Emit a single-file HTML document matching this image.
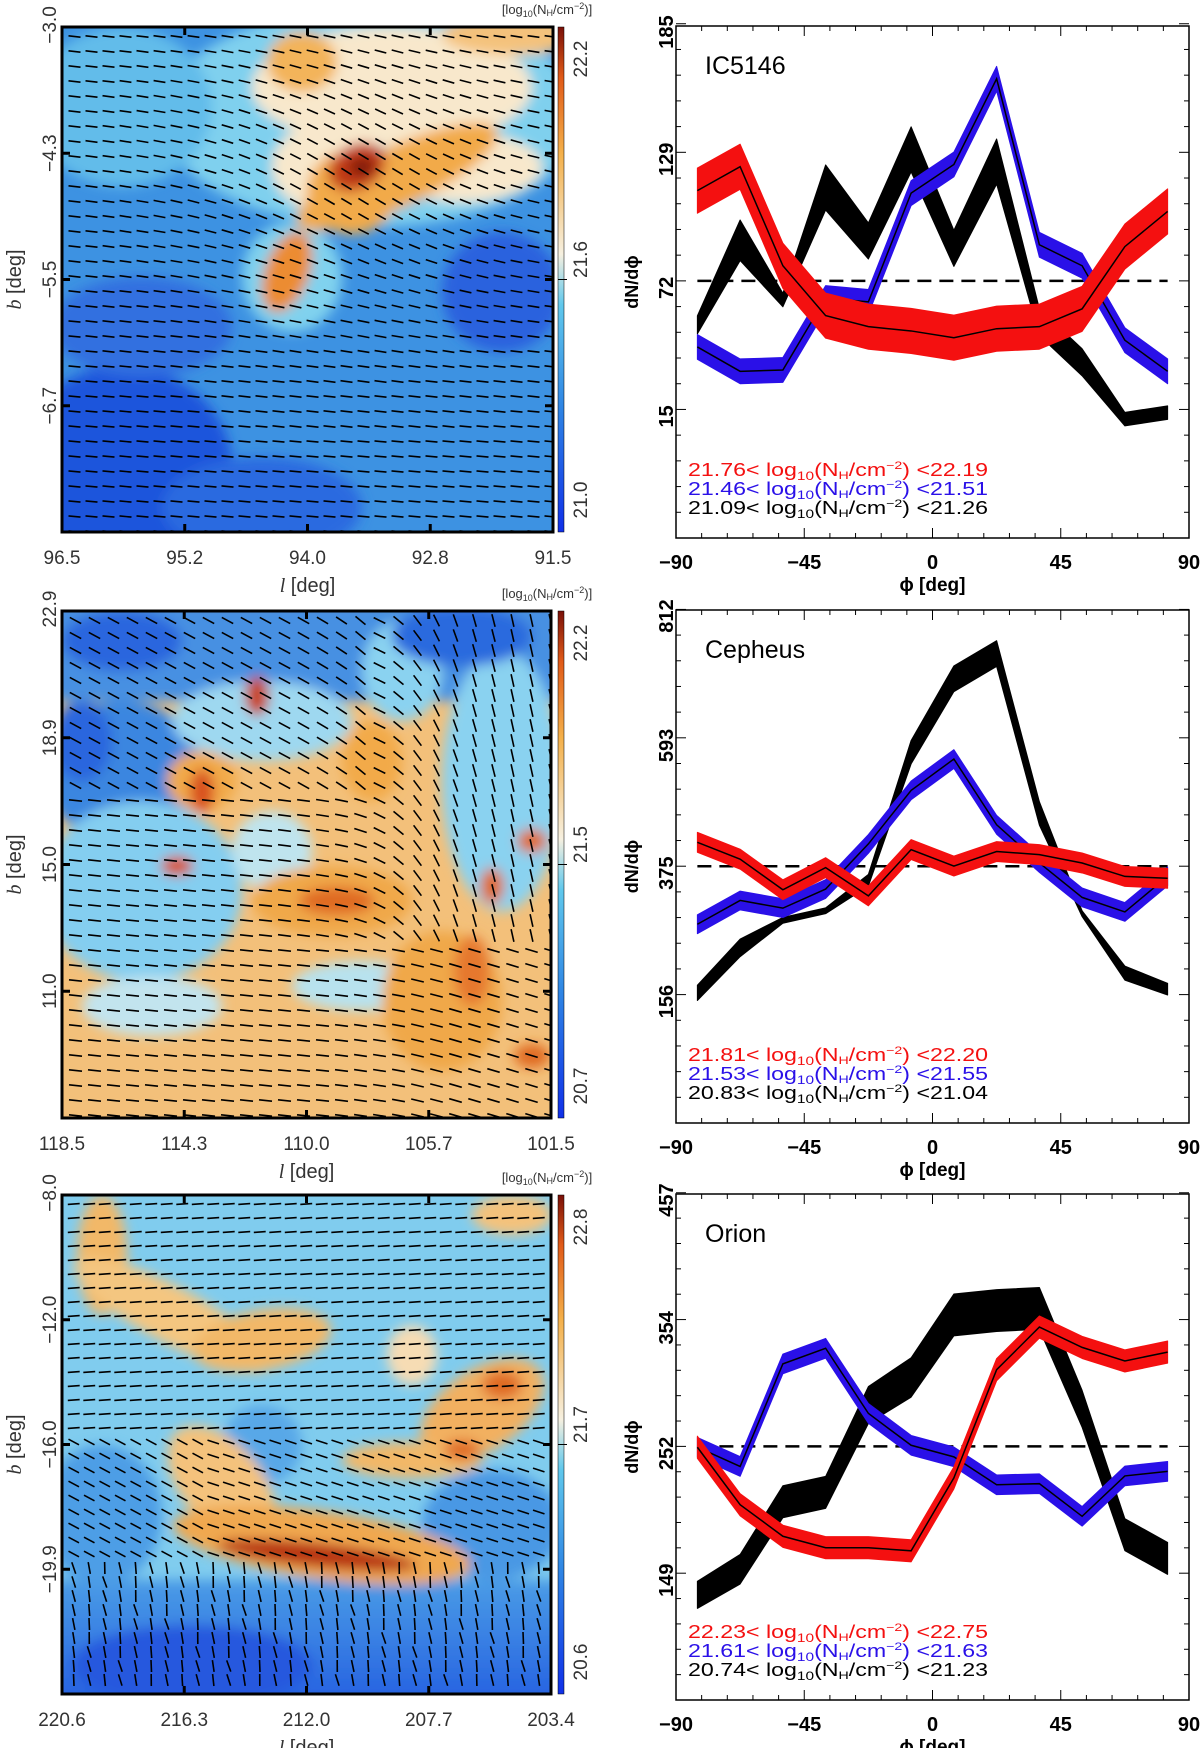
<!DOCTYPE html>
<html><head><meta charset="utf-8"><style>
html,body{margin:0;padding:0;background:#fff}
svg{display:block}
text{font-family:"Liberation Sans",sans-serif}
</style></head><body>
<svg id="root" width="1200" height="1748" viewBox="0 0 1200 1748">
<defs>
<filter id="blur" x="-20%" y="-20%" width="140%" height="140%"><feGaussianBlur stdDeviation="6"/></filter>
<linearGradient id="cbar1" x1="0" y1="1" x2="0" y2="0"><stop offset="0" stop-color="#1030e8"/><stop offset="0.25" stop-color="#2f86e4"/><stop offset="0.45" stop-color="#60c8ec"/><stop offset="0.55" stop-color="#f6f0e0"/><stop offset="0.75" stop-color="#f4b04a"/><stop offset="0.9" stop-color="#e05a18"/><stop offset="1" stop-color="#7a1008"/></linearGradient>
<linearGradient id="bot3" x1="0" y1="0" x2="0" y2="1"><stop offset="0" stop-color="#4a9ce6"/><stop offset="1" stop-color="#2058e0"/></linearGradient>
</defs>
</svg>
<script>
// ---------- chart data ----------
const phiBins = [-82.5,-67.5,-52.5,-37.5,-22.5,-7.5,7.5,22.5,37.5,52.5,67.5,82.5];
const xTicks = [-90,-45,0,45,90];
const ic_red   = [112,122.6,78.7,56.6,51.7,49.8,46.8,50.8,51.7,59.6,87.2,102.8];
const ic_blue  = [42.7,31.9,32.5,64.4,62.7,110.9,123.6,161.6,88,78.7,45.7,31.9];
const ic_black = [52.5,90,63.5,113.4,89.7,130.3,86.4,124.9,53.7,35.9,10.7,13.6];
const ic_blackErr = [4,9,3,10,8,10,8,10,6,6,3,3];
const ic_yTicks = [15,72,129,185];
const ce_red   = [415.7,387,334.8,372.6,324.4,403.3,375.2,400,394.8,380.5,357.6,354.4];
const ce_blue  = [276,316.6,303.5,336,413,504.3,557.8,445.6,380.5,321.8,297,357.6];
const ce_black = [159,235.7,282.7,299,351,569.5,694.7,737.7,465,294,192.7,165.3];
const ce_blackErr = [13,15,5,5,10,20,22,22,20,5,12,10];
const ce_yTicks = [156,375,593,812];
const or_red   = [251.3,204.6,179,169.7,169.7,167.2,226.4,314.3,348.9,332.4,321.4,328.6];
const or_blue  = [251.3,235.7,319,331.7,278.8,252.9,243.5,220.8,221.7,195.2,228,231.7];
const or_black = [131.4,152.2,207,214.6,285.6,308,358.8,362.3,364.1,282.5,180.3,161];
const or_blackErr = [11,12,13,13,15,16,17,17,17,15,13,13];
const or_yTicks = [149,252,354,457];

const NS='http://www.w3.org/2000/svg';
const root=document.getElementById('root');
function el(tag,attrs,parent){const e=document.createElementNS(NS,tag);for(const k in attrs)e.setAttribute(k,attrs[k]);(parent||root).appendChild(e);return e;}

// ---------- line plots ----------
function drawPlot(o){
  const g=el('g',{});
  
  
  const X0=676,X1=1189,Y0=o.top,Y1=o.bottom;
  const ymax=o.yTicks[3], step=o.yTicks[1]-o.yTicks[0], ymin=o.yTicks[0]-step;
  const xs=v=>X0+(v+90)/180*(X1-X0);
  const ys=v=>Y1-(v-ymin)/(ymax-ymin)*(Y1-Y0);
  const band=(vals,errs,color,nm)=>{
    let pts=[];
    vals.forEach((v,i)=>pts.push(xs(phiBins[i])+','+ys(v+errs[i])));
    for(let i=vals.length-1;i>=0;i--)pts.push(xs(phiBins[i])+','+ys(vals[i]-errs[i]));
    const p=el('polygon',{points:pts.join(' '),fill:color,stroke:color,'stroke-width':1,'stroke-linejoin':'round'},g);
    
    
  };
  const line=(vals,nm)=>{
    const p=el('polyline',{points:vals.map((v,i)=>xs(phiBins[i])+','+ys(v)).join(' '),fill:'none',stroke:'#000','stroke-width':1.5},g);
    
    
  };
  const dl=el('line',{x1:xs(phiBins[0]),x2:xs(phiBins[11]),y1:ys(o.yTicks[1]),y2:ys(o.yTicks[1]),stroke:'#000','stroke-width':2.5,'stroke-dasharray':'14,8'},g);
  
  
  band(o.black,o.blackErr,'#000','black-series');
  band(o.blue,o.blue.map(v=>o.blueErr),'#2a10e8','blue-series');
  line(o.blue,'blue-series');
  band(o.red,o.red.map(v=>o.redErr),'#f41010','red-series');
  line(o.red,'red-series');
  const fr=el('rect',{x:X0,y:Y0,width:X1-X0,height:Y1-Y0,fill:'none',stroke:'#000','stroke-width':1.5},g);
  
  
  for(let v=-90;v<=90;v+=9){
    const major=(v%45===0); const L=major?10:5;
    el('line',{x1:xs(v),x2:xs(v),y1:Y1,y2:Y1-L,stroke:'#000','stroke-width':1},g);
    el('line',{x1:xs(v),x2:xs(v),y1:Y0,y2:Y0+L,stroke:'#000','stroke-width':1},g);
  }
  xTicks.forEach(v=>{
    const t=el('text',{x:xs(v),y:Y1+31,'text-anchor':'middle','font-size':20,'font-weight':'bold'},g);
    t.textContent=(v<0?'\u2212'+(-v):v);
    
    
  });
  for(let k=0;k<=20;k++){
    const v=ymin+k*step/5; const major=(k%5===0); const L=major?10:5;
    el('line',{x1:X0,x2:X0+L,y1:ys(v),y2:ys(v),stroke:'#000','stroke-width':1},g);
    el('line',{x1:X1,x2:X1-L,y1:ys(v),y2:ys(v),stroke:'#000','stroke-width':1},g);
  }
  o.yTicks.forEach(v=>{
    const y=ys(v)+ (v===ymax?6:7);
    const t=el('text',{x:0,y:0,transform:`translate(673,${y}) rotate(-90)`,'text-anchor':'middle','font-size':20,'font-weight':'bold'},g);
    t.textContent=v;
    
    
  });
  const yl=el('text',{transform:`translate(638,${(Y0+Y1)/2}) rotate(-90)`,'text-anchor':'middle','font-size':18,'font-weight':'bold'},g);
  yl.textContent='dN/d\u03d5';
  
  
  const xl=el('text',{x:(X0+X1)/2,y:Y1+53,'text-anchor':'middle','font-size':19,'font-weight':'bold'},g);
  xl.textContent='\u03d5 [deg]';
  
  
  const ti=el('text',{x:705,y:Y0+48,'font-size':25},g);
  ti.textContent=o.title;
  
  
  o.legend.forEach((lg,i)=>{
    const t=el('text',{x:688,y:Y1-62+i*19,'font-size':18,fill:lg[2],textLength:300,lengthAdjust:'spacingAndGlyphs'},g);
    
    
    t.innerHTML=lg[0]+'&lt; log<tspan font-size="12" dy="4">10</tspan><tspan dy="-4">(N</tspan><tspan font-size="11" dy="3">H</tspan><tspan dy="-3">/cm</tspan><tspan font-size="11" dy="-7">\u22122</tspan><tspan dy="7">) &lt;'+lg[1]+'</tspan>';
  });
}
drawPlot({name:'ic5146',title:'IC5146',top:26,bottom:538,yTicks:ic_yTicks,red:ic_red,blue:ic_blue,black:ic_black,blackErr:ic_blackErr,redErr:10,blueErr:5.5,
 legend:[['21.76','22.19','#f41010'],['21.46','21.51','#2a10e8'],['21.09','21.26','#000']]});
drawPlot({name:'cepheus',title:'Cepheus',top:610,bottom:1123,yTicks:ce_yTicks,red:ce_red,blue:ce_blue,black:ce_black,blackErr:ce_blackErr,redErr:17,blueErr:16,
 legend:[['21.81','22.20','#f41010'],['21.53','21.55','#2a10e8'],['20.83','21.04','#000']]});
drawPlot({name:'orion',title:'Orion',top:1194,bottom:1700,yTicks:or_yTicks,red:or_red,blue:or_blue,black:or_black,blackErr:or_blackErr,redErr:9,blueErr:8,
 legend:[['22.23','22.75','#f41010'],['21.61','21.63','#2a10e8'],['20.74','21.23','#000']]});

// ---------- maps ----------
function drawMap(o){
  const g=el('g',{});
  
  
  const {x,y,w,h}=o;
  const cid='clip'+o.name;
  const cp=el('clipPath',{id:cid},root); el('rect',{x,y,width:w,height:h},cp);
  const img=el('g',{'clip-path':`url(#${cid})`},g);
  el('rect',{x,y,width:w,height:h,fill:o.base},img);
  const bl=el('g',{filter:'url(#blur)'},img);
  o.blobs.forEach(b=>{
    el(b.r?'rect':'ellipse',b.r?{x:x+b.x,y:y+b.y,width:b.w,height:b.h,fill:b.c}:{cx:x+b.cx,cy:y+b.cy,rx:b.rx,ry:b.ry,fill:b.c,transform:`rotate(${b.a||0} ${x+b.cx} ${y+b.cy})`},bl);
  });
  const vg=el('g',{stroke:'#000','stroke-width':1.6,'stroke-linecap':'butt'},img);
  
  
  for(let yy=o.sy/2+2;yy<h;yy+=o.sy){
    for(let xx=o.sx/2+4;xx<w;xx+=o.sx){
      const a=o.ang(xx,yy)*Math.PI/180, L=o.len/2;
      el('line',{x1:(x+xx-L*Math.cos(a)).toFixed(1),y1:(y+yy-L*Math.sin(a)).toFixed(1),x2:(x+xx+L*Math.cos(a)).toFixed(1),y2:(y+yy+L*Math.sin(a)).toFixed(1)},vg);
    }
  }
  const fr=el('rect',{x,y,width:w,height:h,fill:'none',stroke:'#000','stroke-width':3},g);
  
  
  o.xl.forEach((t,i)=>{
    const xx=x+i*w/4;
    if(i>0&&i<4){el('line',{x1:xx,x2:xx,y1:y,y2:y+8,stroke:'#000','stroke-width':3},g);el('line',{x1:xx,x2:xx,y1:y+h,y2:y+h-8,stroke:'#000','stroke-width':3},g);}
    const tx=el('text',{x:xx,y:y+h+32,'text-anchor':'middle','font-size':19,fill:'#333'},g);
    tx.textContent=t;
    
    
  });
  o.yl.forEach((t,i)=>{
    const yy=y+i*h/4;
    if(i>0){el('line',{x1:x,x2:x+8,y1:yy,y2:yy,stroke:'#000','stroke-width':3},g);el('line',{x1:x+w,x2:x+w-8,y1:yy,y2:yy,stroke:'#000','stroke-width':3},g);}
    const tx=el('text',{transform:`translate(56,${yy+(i===0?-2:0)}) rotate(-90)`,'text-anchor':'middle','font-size':19,fill:'#333'},g);
    tx.textContent=t;
    
    
  });
  const xt=el('text',{x:x+w/2,y:y+h+60,'text-anchor':'middle','font-size':20,fill:'#333'},g);
  xt.innerHTML='<tspan font-family="Liberation Serif" font-style="italic">l</tspan> [deg]';
  
  
  const yt=el('text',{transform:`translate(21,${y+h/2}) rotate(-90)`,'text-anchor':'middle','font-size':20,fill:'#333'},g);
  yt.innerHTML='<tspan font-family="Liberation Serif" font-style="italic">b</tspan> [deg]';
  
  
  const cb=el('rect',{x:558,y,width:6,height:h,fill:'url(#cbar1)',stroke:'#000','stroke-width':0.5},g);
  
  
  el('line',{x1:558,x2:567,y1:y+h/2,y2:y+h/2,stroke:'#000','stroke-width':1},g);
  o.cl.forEach((t,i)=>{
    const yy=[y+h-32,y+h/2-20,y+32][i];
    const tx=el('text',{transform:`translate(587,${yy}) rotate(-90)`,'text-anchor':'middle','font-size':19,fill:'#333'},g);
    tx.textContent=t;
    
    
  });
  const ct=el('text',{x:547,y:y-13,'text-anchor':'middle','font-size':13,fill:'#333'},g);
  ct.innerHTML='[log<tspan font-size="9" dy="3">10</tspan><tspan dy="-3">(N</tspan><tspan font-size="9" dy="2">H</tspan><tspan dy="-2">/cm</tspan><tspan font-size="9" dy="-5">\u22122</tspan><tspan dy="5">)]</tspan>';
  
  
}
const cyan='#7fd0ee',cream='#f8e8cc',orng='#f2aa48',dorng='#e06a22',deep='#1f55dc';
drawMap({name:'ic5146',x:62,y:27,w:491,h:505,base:'#3d92e2',len:12,sx:17,sy:15,
 ang:(x,y)=>6+26*Math.exp(-((x-300)*(x-300)/25000+(y-150)*(y-150)/14000)),
 xl:['96.5','95.2','94.0','92.8','91.5'],yl:['\u22123.0','\u22124.3','\u22125.5','\u22126.7'],cl:['21.0','21.6','22.2'],
 blobs:[
  {cx:60,cy:440,rx:110,ry:100,c:deep},{cx:200,cy:480,rx:100,ry:50,c:'#2b6ae0'},{cx:440,cy:265,rx:60,ry:60,c:'#2a62de'},
  {cx:80,cy:300,rx:90,ry:50,c:'#3070e0'},
  {cx:310,cy:90,rx:210,ry:110,c:cyan},{cx:60,cy:80,rx:90,ry:80,c:'#62bcea'},{cx:230,cy:250,rx:50,ry:55,c:'#80d2ee'},
  {cx:330,cy:60,rx:140,ry:60,c:cream},{cx:265,cy:140,rx:55,ry:45,c:cream},{cx:400,cy:140,rx:80,ry:35,c:cream},
  {cx:240,cy:35,rx:35,ry:30,c:'#f3b45a'},{cx:450,cy:8,rx:70,ry:20,c:'#f4c27c'},
  {cx:335,cy:150,rx:110,ry:30,a:-25,c:orng},{cx:290,cy:165,rx:45,ry:42,c:orng},{cx:225,cy:245,rx:22,ry:42,a:20,c:'#ec8c30'},
  {cx:295,cy:140,rx:30,ry:22,a:-30,c:'#c23a12'},{cx:300,cy:140,rx:13,ry:9,c:'#7a1408'}
 ]});
drawMap({name:'cepheus',x:62,y:611,w:489,h:507,base:'#f3c07a',len:13,sx:19,sy:15,
 ang:(x,y)=>{const s=1/(1+Math.exp(-(x-340)/25));const t=y<330?1:0.15;return 6+(y<180&&x<300?22:0)+72*s*t;},
 xl:['118.5','114.3','110.0','105.7','101.5'],yl:['22.9','18.9','15.0','11.0'],cl:['20.7','21.5','22.2'],
 blobs:[
  {r:1,x:-10,y:-10,w:510,h:100,c:'#4690e2'},{cx:60,cy:160,rx:80,ry:70,c:'#3a86e0'},
  {cx:80,cy:280,rx:100,ry:90,c:'#84cef0'},{cx:200,cy:110,rx:90,ry:40,c:'#9ed8f0'},
  {cx:210,cy:240,rx:40,ry:40,c:'#bfe4ee'},{cx:90,cy:395,rx:70,ry:30,c:'#c2e4ee'},{cx:300,cy:375,rx:70,ry:25,c:'#b8e2ee'},
  {cx:440,cy:170,rx:60,ry:130,c:'#8ad2f0'},{cx:340,cy:60,rx:40,ry:50,c:'#8ad2f0'},
  {cx:60,cy:30,rx:60,ry:30,c:'#2a66de'},{cx:400,cy:25,rx:70,ry:30,c:'#2a6ade'},{cx:20,cy:130,rx:30,ry:40,c:'#2a66de'},
  {cx:140,cy:170,rx:35,ry:30,c:orng},{cx:310,cy:150,rx:30,ry:40,c:orng},{cx:270,cy:290,rx:80,ry:35,c:'#f0a848'},{cx:380,cy:390,rx:60,ry:70,c:'#f0a848'},
  {cx:140,cy:180,rx:12,ry:22,c:'#d8501c'},{cx:115,cy:255,rx:16,ry:10,c:'#d8501c'},{cx:275,cy:290,rx:38,ry:14,c:dorng},
  {cx:195,cy:85,rx:12,ry:20,c:'#c84018'},{cx:430,cy:275,rx:12,ry:18,c:dorng},{cx:470,cy:230,rx:15,ry:12,c:dorng},{cx:410,cy:360,rx:18,ry:35,c:'#e6782e'},{cx:470,cy:445,rx:18,ry:12,c:dorng}
 ]});
drawMap({name:'orion',x:62,y:1195,w:489,h:499,base:'#80ccee',len:12,sx:15.5,sy:14,
 ang:(x,y)=>y<240?-4:(y<360?18+(x<150?10:0):(80+((x*7+y*3)%20)-10)),
 xl:['220.6','216.3','212.0','207.7','203.4'],yl:['\u22128.0','\u221212.0','\u221216.0','\u221219.9'],cl:['20.6','21.7','22.8'],
 blobs:[
  {r:1,x:-10,y:385,w:510,h:140,c:'url(#bot3)'},{cx:40,cy:320,rx:60,ry:70,c:'#4e9ee6'},{cx:430,cy:330,rx:70,ry:55,c:'#4a98e4'},
  {cx:200,cy:250,rx:40,ry:40,c:'#58a8e8'},{cx:130,cy:470,rx:120,ry:40,c:'#2558de'},
  {cx:40,cy:60,rx:25,ry:60,c:'#f2b868'},{cx:110,cy:120,rx:110,ry:28,a:28,c:'#f4c680'},{cx:200,cy:145,rx:70,ry:30,a:-10,c:'#f2b868'},
  {cx:350,cy:160,rx:25,ry:30,c:'#f6dcb4'},{cx:420,cy:215,rx:70,ry:40,a:-35,c:'#f2b060'},{cx:350,cy:265,rx:70,ry:18,c:'#f2b868'},
  {cx:450,cy:20,rx:40,ry:20,c:'#f4c27c'},{cx:160,cy:290,rx:40,ry:70,a:-40,c:'#f4c27c'},
  {cx:260,cy:350,rx:150,ry:34,a:8,c:'#f0a850'},{cx:255,cy:360,rx:100,ry:12,a:6,c:'#b83010'},{cx:440,cy:190,rx:20,ry:14,c:dorng},{cx:400,cy:255,rx:18,ry:10,c:dorng}
 ]});
</script>
</body></html>
